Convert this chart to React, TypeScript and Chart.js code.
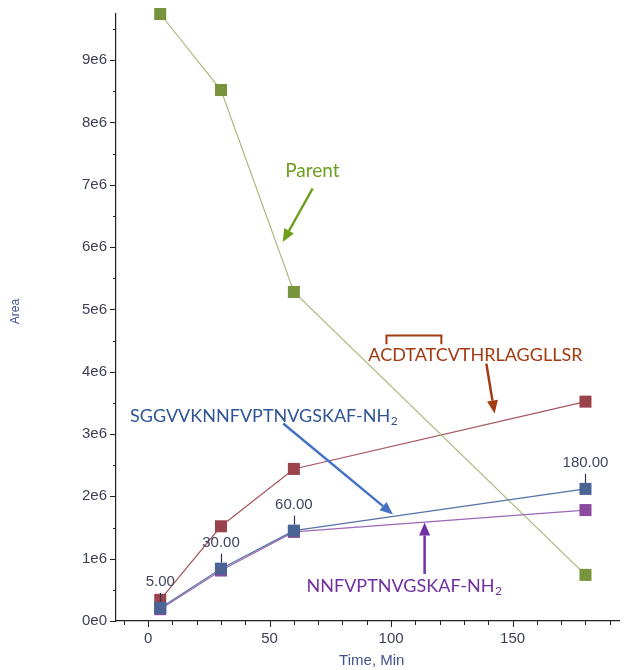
import React, { useEffect, useRef } from "react";
import { Chart, registerables } from "chart.js";

Chart.register(...registerables);

// ---- data ----
const timesMin = [5, 30, 60, 180];
const parentArea = [9.74e6, 8.52e6, 5.28e6, 0.74e6];
const acdArea = [0.34e6, 1.52e6, 2.44e6, 3.52e6];
const sggArea = [0.21e6, 0.84e6, 1.45e6, 2.12e6];
const nnfArea = [0.19e6, 0.81e6, 1.43e6, 1.78e6];

const yTickValues = [0, 1e6, 2e6, 3e6, 4e6, 5e6, 6e6, 7e6, 8e6, 9e6];
const yTickLabels = ["0e0", "1e6", "2e6", "3e6", "4e6", "5e6", "6e6", "7e6", "8e6", "9e6"];
const xTickValues = [0, 50, 100, 150];
const xTickLabels = ["0", "50", "100", "150"];
const yMinorStep = 0.5e6;
const xMinorStep = 10;
const yRange = [0, 9.74e6];
const xRange = [-13.2, 194];

// annotation anchors, in data units (minutes, area)
const parentNote = { text: "Parent", x: 67.6, y: 7.23e6, from: [67.7, 6.94e6], to: [55.4, 6.08e6] };
const acdNote = { text: "ACDTATCVTHRLAGGLLSR", x: 134.7, y: 4.26e6, bracket: [98.1, 120.7, 4.58e6, 4.44e6], from: [139.2, 4.13e6], to: [142.6, 3.33e6] };
const sggNote = { text: "SGGVVKNNFVPTNVGSKAF-NH", sub: "2", x: -7.4, y: 3.29e6, from: [55.6, 3.17e6], to: [100.8, 1.71e6] };
const nnfNote = { text: "NNFVPTNVGSKAF-NH", sub: "2", x: 65.2, y: 0.56e6, from: [113.8, 0.755e6], to: [113.8, 1.58e6] };

const pts = (ys: number[]) => timesMin.map((t, i) => ({ x: t, y: ys[i] }));

const TICK_FONT = "15px 'Liberation Sans', Arial, sans-serif";
const NOTE_FONT = "Lato, 'Open Sans', sans-serif";

function drawArrow(ctx: CanvasRenderingContext2D, x1: number, y1: number, x2: number, y2: number, color: string) {
  const ang = Math.atan2(y2 - y1, x2 - x1);
  const headLen = 13;
  const headW = 5.5;
  const bx = x2 - headLen * Math.cos(ang);
  const by = y2 - headLen * Math.sin(ang);
  ctx.save();
  ctx.strokeStyle = color;
  ctx.fillStyle = color;
  ctx.lineWidth = 2.5;
  ctx.beginPath();
  ctx.moveTo(x1, y1);
  ctx.lineTo(bx, by);
  ctx.stroke();
  ctx.beginPath();
  ctx.moveTo(x2, y2);
  ctx.lineTo(bx + headW * Math.sin(ang), by - headW * Math.cos(ang));
  ctx.lineTo(bx - headW * Math.sin(ang), by + headW * Math.cos(ang));
  ctx.closePath();
  ctx.fill();
  ctx.restore();
}

function drawSubText(ctx: CanvasRenderingContext2D, text: string, sub: string, x: number, y: number, size: number, color: string) {
  ctx.save();
  ctx.fillStyle = color;
  ctx.textAlign = "left";
  ctx.textBaseline = "middle";
  ctx.font = `${size}px ${NOTE_FONT}`;
  ctx.fillText(text, x, y);
  const w = ctx.measureText(text).width;
  ctx.font = `${Math.round(size * 0.65)}px ${NOTE_FONT}`;
  ctx.fillText(sub, x + w + 0.5, y + size * 0.3);
  ctx.restore();
}

const overlayPlugin = {
  id: "overlay",
  afterDraw(chart: any) {
    const ctx: CanvasRenderingContext2D = chart.ctx;
    const xs = chart.scales.x;
    const ys = chart.scales.y;
    const area = chart.chartArea;
    const X = (v: number) => xs.getPixelForValue(v);
    const Y = (v: number) => ys.getPixelForValue(v);

    // tick marks (major + minor)
    ctx.save();
    ctx.strokeStyle = "#222";
    ctx.lineWidth = 1;
    for (let k = 0; k * yMinorStep <= ys.max; k++) {
      const v = k * yMinorStep;
      const py = Math.round(Y(v)) + 0.5;
      const len = yTickValues.includes(v) ? 6 : 3;
      ctx.beginPath();
      ctx.moveTo(area.left - len, py);
      ctx.lineTo(area.left, py);
      ctx.stroke();
    }
    const firstX = Math.ceil(xs.min / xMinorStep) * xMinorStep;
    for (let v = firstX; v <= xs.max; v += xMinorStep) {
      const px = Math.round(X(v)) + 0.5;
      const len = xTickValues.includes(v) ? 6 : 4;
      ctx.beginPath();
      ctx.moveTo(px, area.bottom);
      ctx.lineTo(px, area.bottom + len);
      ctx.stroke();
    }
    ctx.restore();

    // axis titles
    ctx.save();
    ctx.fillStyle = "#44528a";
    ctx.font = "12px 'Liberation Sans', Arial, sans-serif";
    ctx.textAlign = "center";
    ctx.textBaseline = "middle";
    ctx.translate(16, (area.top + area.bottom) / 2 - 6);
    ctx.rotate(-Math.PI / 2);
    ctx.fillText("Area", 0, 0);
    ctx.restore();
    ctx.save();
    ctx.fillStyle = "#44528a";
    ctx.font = TICK_FONT;
    ctx.textAlign = "center";
    ctx.textBaseline = "middle";
    ctx.fillText("Time, Min", (area.left + area.right) / 2 + 4, 661);
    ctx.restore();

    // data labels on SGG series
    const meta = chart.getDatasetMeta(2);
    ctx.save();
    ctx.font = TICK_FONT;
    ctx.fillStyle = "#3c4660";
    ctx.strokeStyle = "#2b3550";
    ctx.lineWidth = 1.2;
    ctx.textAlign = "center";
    ctx.textBaseline = "alphabetic";
    meta.data.forEach((el: any, i: number) => {
      const lx = Math.round(el.x) + 0.5;
      ctx.beginPath();
      ctx.moveTo(lx, el.y - 6);
      ctx.lineTo(lx, el.y - 15);
      ctx.stroke();
      ctx.fillText(timesMin[i].toFixed(2), el.x, el.y - 22);
    });
    ctx.restore();

    // Parent note
    ctx.save();
    ctx.fillStyle = "#6e9e1e";
    ctx.font = `19px ${NOTE_FONT}`;
    ctx.textAlign = "center";
    ctx.textBaseline = "middle";
    ctx.fillText(parentNote.text, X(parentNote.x), Y(parentNote.y));
    ctx.restore();
    drawArrow(ctx, X(parentNote.from[0]), Y(parentNote.from[1]), X(parentNote.to[0]), Y(parentNote.to[1]), "#6e9e1e");

    // ACD note
    ctx.save();
    ctx.fillStyle = "#a33a10";
    ctx.font = `18px ${NOTE_FONT}`;
    ctx.textAlign = "center";
    ctx.textBaseline = "middle";
    ctx.fillText(acdNote.text, X(acdNote.x), Y(acdNote.y));
    const [bx1, bx2, byTop, byBot] = acdNote.bracket;
    ctx.strokeStyle = "#a33a10";
    ctx.lineWidth = 2;
    ctx.beginPath();
    ctx.moveTo(X(bx1), Y(byBot));
    ctx.lineTo(X(bx1), Y(byTop));
    ctx.lineTo(X(bx2), Y(byTop));
    ctx.lineTo(X(bx2), Y(byBot));
    ctx.stroke();
    ctx.restore();
    drawArrow(ctx, X(acdNote.from[0]), Y(acdNote.from[1]), X(acdNote.to[0]), Y(acdNote.to[1]), "#a33a10");

    // SGG note
    drawSubText(ctx, sggNote.text, sggNote.sub, X(sggNote.x), Y(sggNote.y), 18, "#2e5496");
    drawArrow(ctx, X(sggNote.from[0]), Y(sggNote.from[1]), X(sggNote.to[0]), Y(sggNote.to[1]), "#4472c4");

    // NNF note
    drawSubText(ctx, nnfNote.text, nnfNote.sub, X(nnfNote.x), Y(nnfNote.y), 18, "#7030a0");
    drawArrow(ctx, X(nnfNote.from[0]), Y(nnfNote.from[1]), X(nnfNote.to[0]), Y(nnfNote.to[1]), "#7030a0");
  },
};

export default function App() {
  const ref = useRef<HTMLCanvasElement | null>(null);

  useEffect(() => {
    if (!ref.current) return;
    const mk = (label: string, ys: number[], line: string, mark: string, order: number) => ({
      label,
      data: pts(ys),
      borderColor: line,
      backgroundColor: mark,
      pointBackgroundColor: mark,
      pointBorderColor: mark,
      pointBorderWidth: 0,
      pointStyle: "rect",
      pointRadius: 8.5,
      borderWidth: 1.2,
      tension: 0,
      clip: false,
      order,
    });
    const tickFont = { family: "'Liberation Sans', Arial, sans-serif", size: 15 };
    const chart = new Chart(ref.current, {
      type: "line",
      data: {
        datasets: [
          mk("Parent", parentArea, "#a7bb7d", "#77933c", 2),
          mk("ACDTATCVTHRLAGGLLSR", acdArea, "#a5545d", "#9a434c", 3),
          mk("SGGVVKNNFVPTNVGSKAF-NH2", sggArea, "#5672a3", "#4a6494", 0),
          mk("NNFVPTNVGSKAF-NH2", nnfArea, "#9c68b6", "#8a4a9f", 1),
        ] as any,
      },
      options: {
        animation: false,
        responsive: false,
        events: [],
        layout: { padding: { left: 0, top: 14, right: 8, bottom: 0 } },
        plugins: {
          legend: { display: false },
          tooltip: { enabled: false },
        },
        scales: {
          x: {
            type: "linear",
            min: xRange[0],
            max: xRange[1],
            afterBuildTicks: (s: any) => {
              s.min = xRange[0];
              s.max = xRange[1];
              s.ticks = xTickValues.map((v) => ({ value: v }));
            },
            afterFit: (s: any) => {
              s.height = 49;
            },
            grid: { display: true, drawOnChartArea: false, drawTicks: true, tickLength: 6, color: "rgba(0,0,0,0)" },
            border: { display: true, color: "#222", width: 1.2 },
            ticks: {
              autoSkip: false,
              maxRotation: 0,
              padding: 3,
              color: "#3a3f55",
              font: tickFont,
              callback: (v: any, i: number) => xTickLabels[i] ?? String(v),
            },
          },
          y: {
            type: "linear",
            min: yRange[0],
            max: yRange[1],
            afterBuildTicks: (s: any) => {
              s.min = yRange[0];
              s.max = yRange[1];
              s.ticks = yTickValues.map((v) => ({ value: v }));
            },
            afterFit: (s: any) => {
              s.width = 116;
            },
            grid: { display: true, drawOnChartArea: false, drawTicks: true, tickLength: 6, color: "rgba(0,0,0,0)" },
            border: { display: true, color: "#222", width: 1.2 },
            ticks: {
              autoSkip: false,
              padding: 3,
              color: "#3a3f55",
              font: tickFont,
              callback: (v: any, i: number) => yTickLabels[i] ?? String(v),
            },
          },
        },
      } as any,
      plugins: [overlayPlugin],
    });
    return () => chart.destroy();
  }, []);

  return (
    <div style={{ position: "absolute", left: 0, top: 0, width: 628, height: 670, background: "#fff" }}>
      <canvas ref={ref} width={628} height={670} style={{ display: "block" }} />
    </div>
  );
}
